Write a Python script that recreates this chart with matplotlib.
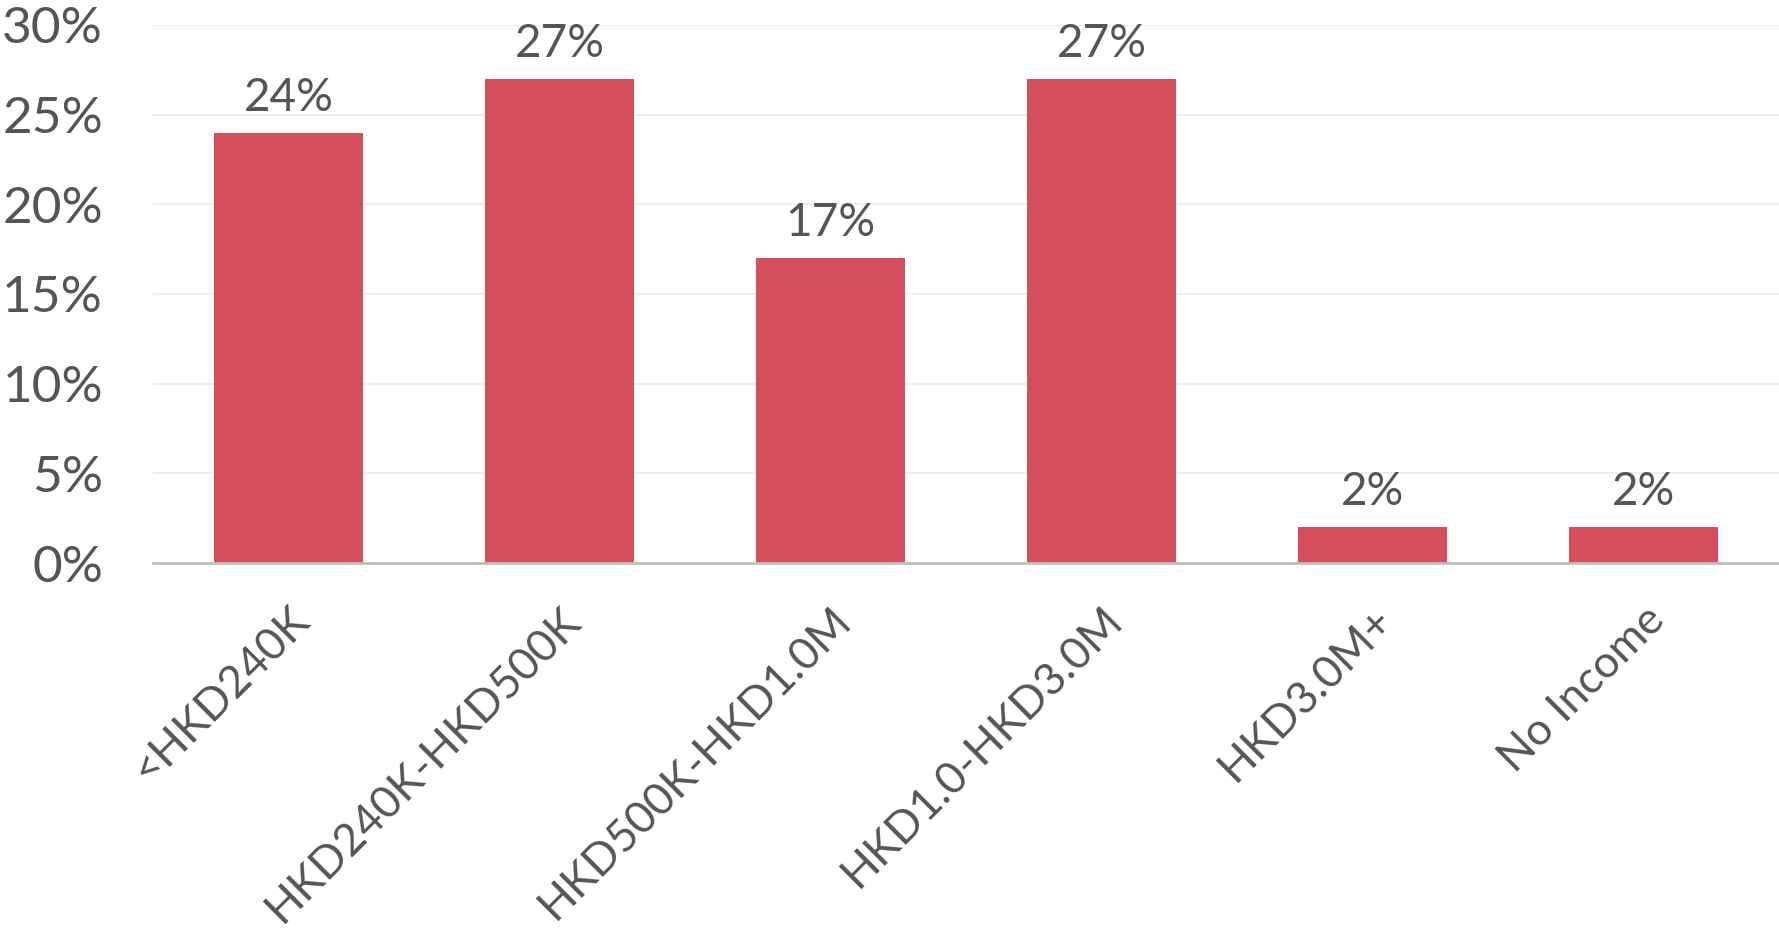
import numpy as np
import matplotlib.pyplot as plt

categories = ['<HKD240K', 'HKD240K-HKD500K', 'HKD500K-HKD1.0M',
              'HKD1.0-HKD3.0M', 'HKD3.0M+', 'No Income']
shares = [24, 27, 17, 27, 2, 2]
yticks = [0, 5, 10, 15, 20, 25, 30]

bar_color = '#D44E5C'
text_color = '#555555'

plt.rcParams['font.family'] = ['Lato', 'DejaVu Sans']

fig = plt.figure(figsize=(17.79, 9.36), dpi=100)
ax = fig.add_axes([0.086, 0.3985, 0.914, 0.5748])

x = np.arange(len(categories))
bars = ax.bar(x, shares, width=0.553, color=bar_color, zorder=2)

# value labels above each bar
for xi, v in zip(x, shares):
    ax.annotate(f'{v}%', (xi, v), xytext=(0, 10), textcoords='offset points',
                ha='center', va='bottom', fontsize=33, color=text_color)

ax.set_xlim(-0.5, len(categories) - 0.5)
ax.set_ylim(0, 30)
ax.set_yticks(yticks)
ax.set_yticklabels([f'{t}%' for t in yticks], fontsize=37, color=text_color)
ax.set_xticks(x)
ax.set_xticklabels(categories, rotation=45, ha='right', rotation_mode='anchor',
                   fontsize=32, color=text_color)
ax.tick_params(axis='y', length=0, pad=36)
ax.tick_params(axis='x', length=0, pad=26)

ax.grid(axis='y', color='#EEEEEE', linewidth=1.5, zorder=0)
for s in ['top', 'right', 'left']:
    ax.spines[s].set_visible(False)
ax.spines['bottom'].set_color('#BFBFBF')
ax.spines['bottom'].set_linewidth(2)
ax.spines['bottom'].set_zorder(3)

fig.savefig('out.png', dpi=100)
